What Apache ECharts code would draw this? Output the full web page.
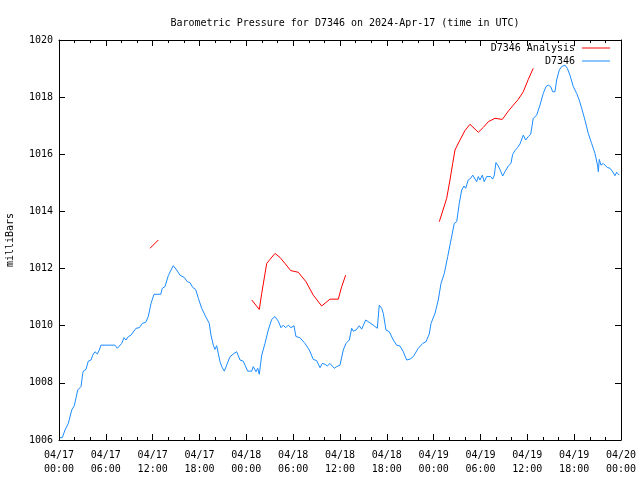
<!DOCTYPE html>
<html>
<head>
<meta charset="utf-8">
<script src="https://cdn.jsdelivr.net/npm/echarts@6/dist/echarts.min.js"></script>
<style>
html,body{margin:0;padding:0;background:#fff;}
#chart{width:640px;height:480px;}
</style>
</head>
<body>
<div id="chart"></div>
<script>
// Hours since 2024-04-17 00:00 UTC
var obsHours = [0.13,0.42,0.77,1.19,1.63,1.96,2.40,2.60,2.82,3.04,3.11,3.46,3.75,4.10,4.32,4.61,4.91,5.16,5.38,7.17,7.47,7.72,8.03,8.33,8.58,8.88,9.22,9.86,10.29,10.67,11.11,11.44,11.79,12.17,13.03,13.23,13.58,14.00,14.35,14.64,15.08,15.50,16.05,16.44,16.78,17.13,17.51,17.85,18.28,18.70,19.25,19.47,19.77,19.98,20.20,20.41,20.63,20.92,21.18,21.48,21.91,22.33,22.76,23.19,23.61,24.17,24.69,24.89,25.24,25.46,25.66,25.97,26.39,26.81,27.25,27.67,28.09,28.44,28.73,29.04,29.37,29.72,30.10,30.36,30.87,31.51,32.07,32.58,33.01,33.44,33.73,34.08,34.37,34.72,35.27,35.58,36.00,36.42,36.77,37.19,37.50,37.70,38.05,38.47,38.78,39.29,39.62,40.26,40.78,41.03,41.34,41.55,41.89,42.31,42.83,43.26,43.68,44.11,44.54,44.97,45.39,46.03,46.59,47.01,47.44,47.66,48.17,48.59,48.94,49.36,49.80,50.22,50.64,50.95,51.28,51.59,51.88,52.10,52.43,52.74,53.00,53.20,53.51,53.72,53.93,54.23,54.48,54.79,55.30,55.56,55.77,55.98,56.28,56.49,56.84,57.13,57.56,57.90,58.12,58.42,58.76,59.06,59.48,59.79,60.12,60.43,60.76,61.20,61.62,62.04,62.39,62.68,62.99,63.25,63.54,63.76,64.09,64.40,64.82,65.12,65.46,65.89,66.32,66.65,66.96,67.38,67.81,68.24,68.67,69.01,69.09,69.22,69.43,69.73,69.95,70.24,70.59,70.93,71.23,71.45,71.78];
var obsValues = [1006.08,1006.08,1006.35,1006.58,1007.05,1007.20,1007.75,1007.69,1007.87,1008.33,1008.41,1008.47,1008.76,1008.80,1008.97,1009.09,1009.01,1009.15,1009.32,1009.32,1009.21,1009.21,1009.38,1009.58,1009.50,1009.62,1009.67,1009.91,1009.93,1010.08,1010.12,1010.32,1010.78,1011.10,1011.10,1011.31,1011.37,1011.75,1011.95,1012.10,1011.95,1011.77,1011.69,1011.54,1011.51,1011.34,1011.27,1010.96,1010.61,1010.37,1010.08,1009.67,1009.32,1009.17,1009.30,1009.03,1008.74,1008.53,1008.41,1008.62,1008.92,1009.01,1009.09,1008.80,1008.76,1008.41,1008.41,1008.57,1008.39,1008.51,1008.30,1008.97,1009.38,1009.85,1010.22,1010.32,1010.16,1009.93,1010.02,1009.93,1010.02,1009.93,1010.00,1009.62,1009.58,1009.38,1009.15,1008.82,1008.78,1008.53,1008.68,1008.65,1008.59,1008.68,1008.51,1008.57,1008.62,1009.15,1009.38,1009.50,1009.91,1009.81,1009.85,1010.00,1009.88,1010.20,1010.14,1010.02,1009.91,1010.72,1010.61,1010.43,1009.85,1009.79,1009.50,1009.32,1009.29,1009.09,1008.80,1008.83,1008.92,1009.21,1009.38,1009.44,1009.71,1010.08,1010.43,1010.90,1011.48,1011.83,1012.42,1013.00,1013.58,1013.64,1014.28,1014.75,1014.89,1014.81,1015.10,1015.16,1015.27,1015.22,1015.04,1015.22,1015.10,1015.27,1015.04,1015.22,1015.22,1015.13,1015.27,1015.71,1015.59,1015.47,1015.24,1015.39,1015.59,1015.68,1016.00,1016.13,1016.24,1016.36,1016.67,1016.50,1016.62,1016.70,1017.26,1017.37,1017.72,1018.13,1018.37,1018.42,1018.37,1018.19,1018.19,1018.60,1018.95,1019.07,1019.12,1019.01,1018.77,1018.37,1018.13,1017.90,1017.61,1017.20,1016.73,1016.38,1016.03,1015.59,1015.39,1015.82,1015.62,1015.68,1015.72,1015.54,1015.51,1015.39,1015.25,1015.37,1015.27];

// Analysis segments (null separates runs)
var anaHours = [11.66,12.72,18.0, 24.69,25.66,25.97,26.61,27.03,27.67,28.31,28.95,29.68,30.66,31.64,32.58,33.65,34.72,35.78,36.22,36.73,42.0, 48.72,49.67,50.09,50.44,50.73,51.37,52.01,52.65,53.72,54.36,55.00,55.85,56.79,57.56,58.20,58.84,59.48,60.12,60.76];
var anaValues = [1012.71,1013.00,null, 1010.90,1010.57,1011.13,1012.18,1012.32,1012.53,1012.39,1012.18,1011.93,1011.87,1011.54,1011.07,1010.69,1010.93,1010.93,1011.37,1011.77,null, 1013.64,1014.46,1015.10,1015.68,1016.15,1016.50,1016.83,1017.05,1016.77,1016.94,1017.14,1017.26,1017.22,1017.51,1017.72,1017.92,1018.19,1018.62,1019.01];

var xTickLabels = ['04/17\n00:00','04/17\n06:00','04/17\n12:00','04/17\n18:00','04/18\n00:00','04/18\n06:00','04/18\n12:00','04/18\n18:00','04/19\n00:00','04/19\n06:00','04/19\n12:00','04/19\n18:00','04/20\n00:00'];
var yTicks = [1006,1008,1010,1012,1014,1016,1018,1020];

var FONT = '"DejaVu Sans Mono", "Liberation Mono", monospace';
function zip(a,b){ return a.map(function(v,i){ return [v, b[i]]; }); }

var chart = echarts.init(document.getElementById('chart'), null, {renderer:'canvas'});
var axisCommonX = {
  type:'value', min:0, max:72, interval:6,
  axisLine:{show:true, onZero:false, lineStyle:{color:'#000', width:1}},
  axisTick:{show:true, inside:true, length:6, lineStyle:{color:'#000'}},
  minorTick:{show:true, splitNumber:3, length:3, lineStyle:{color:'#000'}},
  splitLine:{show:false}
};
var axisCommonY = {
  type:'value', min:yTicks[0], max:yTicks[yTicks.length-1], interval:2,
  axisLine:{show:true, onZero:false, lineStyle:{color:'#000', width:1}},
  axisTick:{show:true, inside:true, length:6, lineStyle:{color:'#000'}},
  splitLine:{show:false}
};
chart.setOption({
  animation:false,
  backgroundColor:'#fff',
  textStyle:{fontFamily:FONT},
  title:{
    text:'Barometric Pressure for D7346 on 2024-Apr-17 (time in UTC)',
    left:340, top:13, textAlign:'center',
    textStyle:{fontFamily:FONT, fontSize:10, fontWeight:'normal', color:'#000'}
  },
  legend:[
    {data:['D7346 Analysis'], right:30, top:43, align:'right', icon:'rect', itemWidth:28, itemHeight:1, itemGap:0,
     textStyle:{fontFamily:FONT, fontSize:10, color:'#000', padding:[0,2,0,0]}, padding:0},
    {data:['D7346'], right:30, top:56, align:'right', icon:'rect', itemWidth:28, itemHeight:1, itemGap:0,
     textStyle:{fontFamily:FONT, fontSize:10, color:'#000', padding:[0,2,0,0]}, padding:0}
  ],
  grid:{left:59, right:19, top:40, bottom:40, containLabel:false, outerBoundsMode:'none'},
  xAxis:[
    Object.assign({}, axisCommonX, {position:'bottom',
      axisLabel:{show:true, fontFamily:FONT, fontSize:10, color:'#000', lineHeight:14, margin:8,
        showMinLabel:true, showMaxLabel:true,
        formatter:function(v){ return xTickLabels[Math.round(v/6)]; }}}),
    Object.assign({}, axisCommonX, {position:'top', axisLabel:{show:false}})
  ],
  yAxis:[
    Object.assign({}, axisCommonY, {position:'left',
      name:'milliBars', nameLocation:'middle', nameRotate:90, nameGap:44,
      nameTextStyle:{fontFamily:FONT, fontSize:10, color:'#000'},
      axisLabel:{show:true, fontFamily:FONT, fontSize:10, color:'#000', margin:6,
        formatter:function(v){ return String(v); }}}),
    Object.assign({}, axisCommonY, {position:'right', axisLabel:{show:false}})
  ],
  series:[
    {name:'D7346 Analysis', type:'line', xAxisIndex:0, yAxisIndex:0, data:zip(anaHours, anaValues),
     showSymbol:false, symbol:'none', connectNulls:false, color:'#ff0000', lineStyle:{color:'#ff0000', width:1}, z:3},
    {name:'D7346', type:'line', xAxisIndex:0, yAxisIndex:0, data:zip(obsHours, obsValues),
     showSymbol:false, symbol:'none', color:'#1a8cff', lineStyle:{color:'#1a8cff', width:1}, z:2}
  ]
});
</script>
</body>
</html>
